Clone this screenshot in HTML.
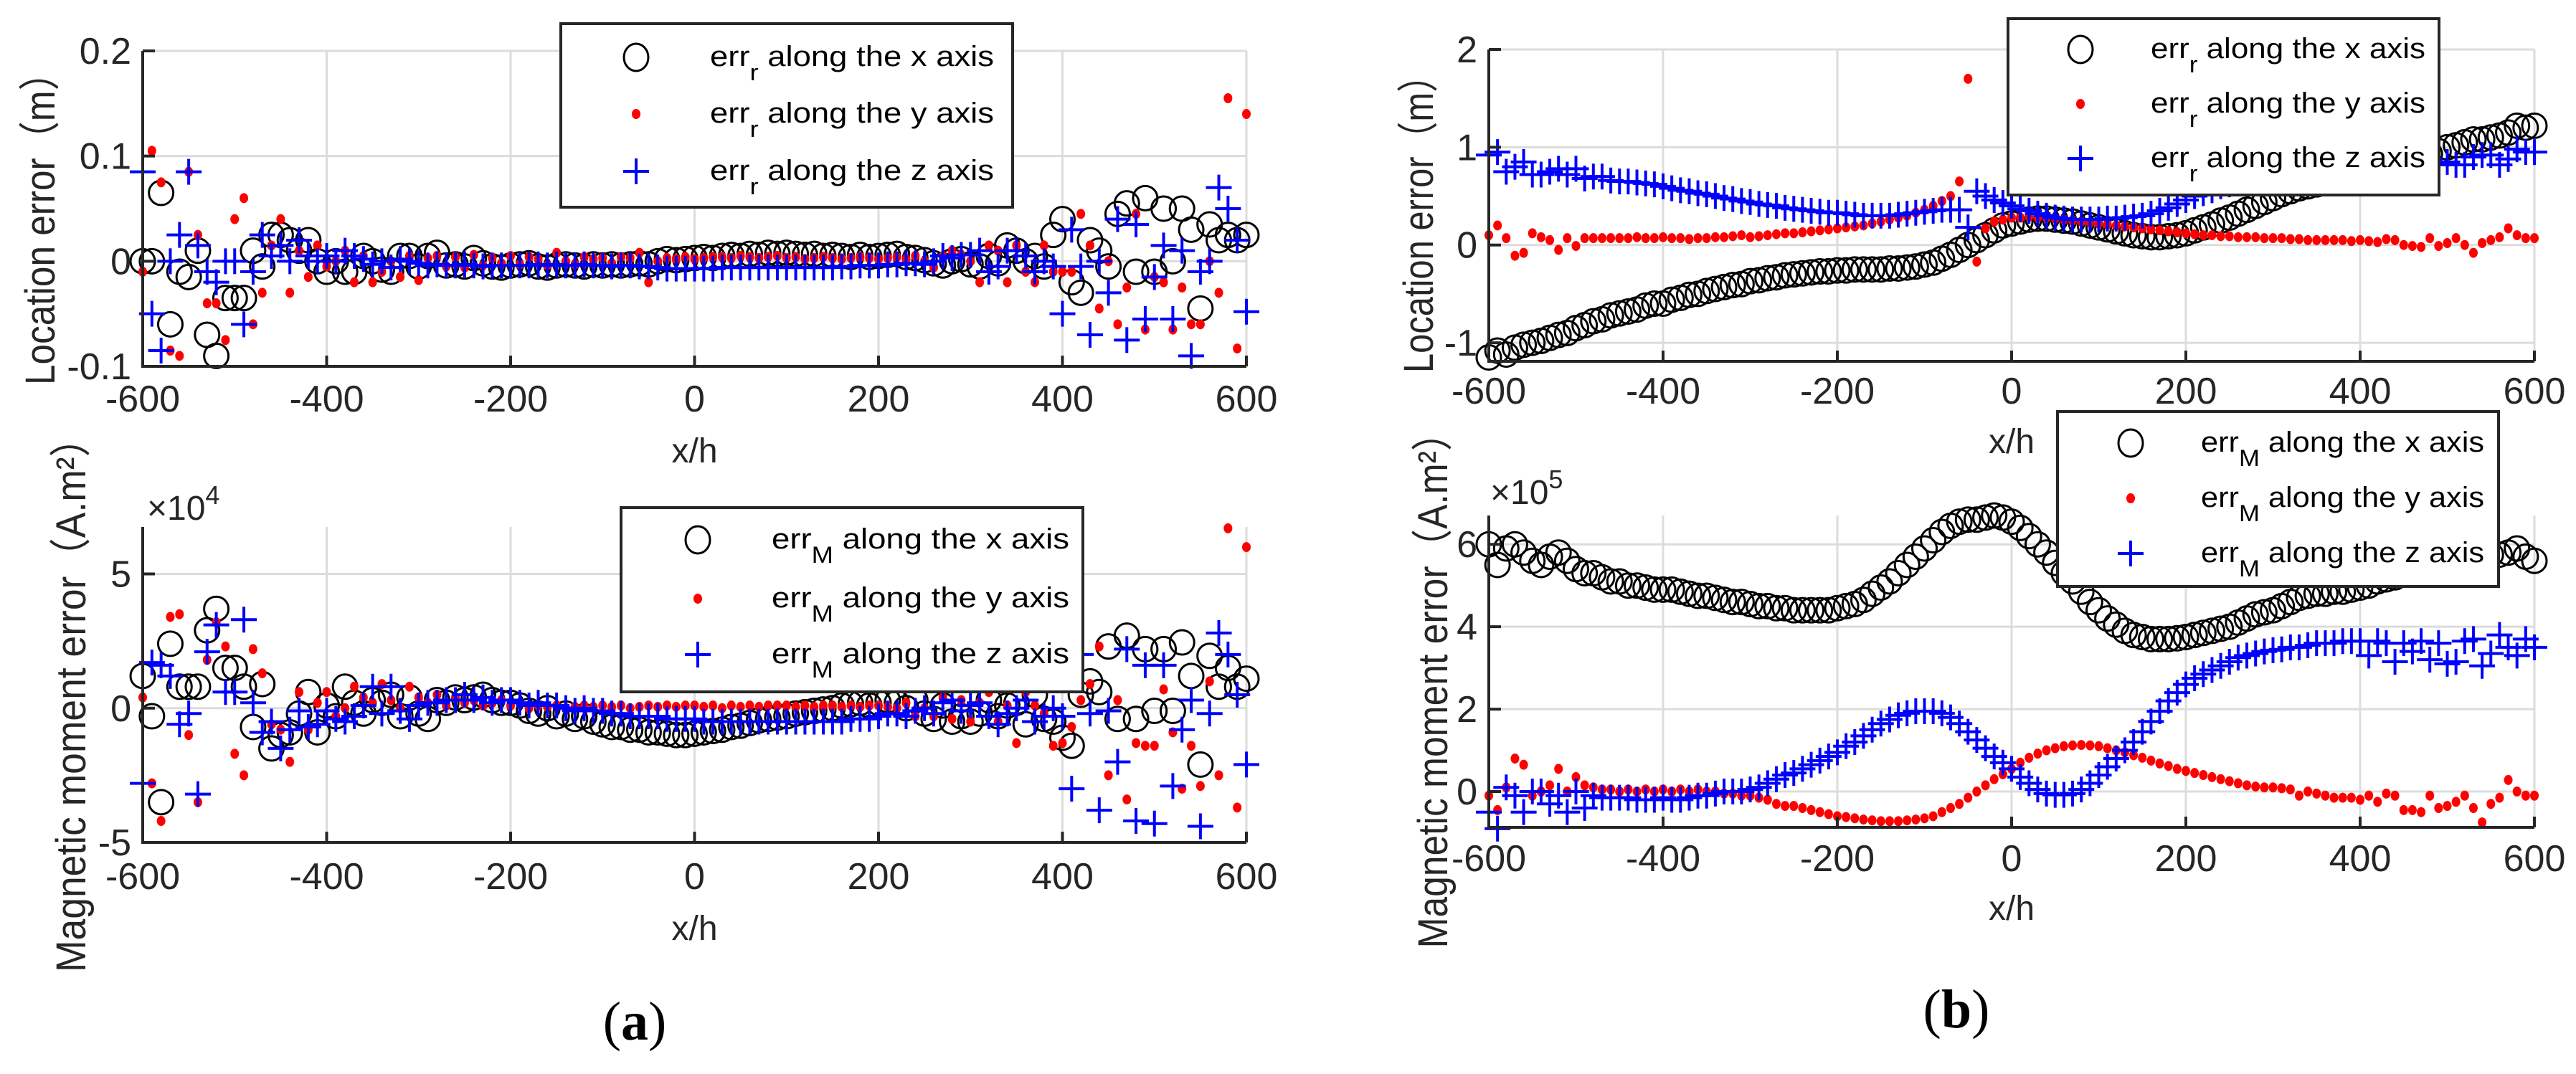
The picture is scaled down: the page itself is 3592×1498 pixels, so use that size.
<!DOCTYPE html>
<html><head><meta charset="utf-8">
<style>
html,body{margin:0;padding:0;background:#fff;}
svg{display:block;}
</style></head>
<body>
<svg id="fig" width="3592" height="1498" viewBox="0 0 3592 1498" xmlns="http://www.w3.org/2000/svg">
<rect x="0" y="0" width="3592" height="1498" fill="#fff"/>
</svg>
<script>
// x categories (x/h)
const xCats = [-600,-590,-580,-570,-560,-550,-540,-530,-520,-510,-500,-490,-480,-470,-460,-450,-440,-430,-420,-410,-400,-390,-380,-370,-360,-350,-340,-330,-320,-310,-300,-290,-280,-270,-260,-250,-240,-230,-220,-210,-200,-190,-180,-170,-160,-150,-140,-130,-120,-110,-100,-90,-80,-70,-60,-50,-40,-30,-20,-10,0,10,20,30,40,50,60,70,80,90,100,110,120,130,140,150,160,170,180,190,200,210,220,230,240,250,260,270,280,290,300,310,320,330,340,350,360,370,380,390,400,410,420,430,440,450,460,470,480,490,500,510,520,530,540,550,560,570,580,590,600];
const xTicks = [-600,-400,-200,0,200,400,600];

// Panel (a) top: location error (m)
const aLocX = [0.0,0.0,0.065,-0.06,-0.01,-0.015,0.01,-0.07,-0.09,-0.035,
-0.035,-0.035,0.01,-0.005,0.025,0.025,0.02,0.01,0.02,0.0,
-0.01,0.0,-0.01,-0.01,0.005,0.0,-0.008,-0.01,0.005,0.005,
-0.005,0.005,0.008,-0.004,-0.003,-0.005,0.003,-0.002,-0.005,-0.006,
-0.004,-0.003,-0.002,-0.005,-0.006,-0.004,-0.003,-0.004,-0.005,-0.003,
-0.004,-0.003,-0.004,-0.003,-0.002,-0.003,0.0,0.002,0.001,0.002,
0.003,0.004,0.003,0.005,0.006,0.005,0.007,0.006,0.008,0.007,
0.008,0.007,0.006,0.007,0.005,0.006,0.005,0.004,0.006,0.004,
0.005,0.006,0.007,0.004,0.003,0.001,-0.002,-0.004,0.0,0.002,
-0.003,-0.005,0.005,-0.002,0.015,0.01,0.0,0.005,-0.005,0.025,
0.04,-0.02,-0.03,0.02,0.01,-0.005,0.045,0.055,-0.01,0.06,
-0.01,0.05,0.0,0.05,0.03,-0.045,0.035,0.02,0.025,0.02,
0.025];
const aLocY = [-0.01,0.105,0.075,-0.085,-0.09,0.085,0.025,-0.04,-0.04,-0.075,
0.04,0.06,-0.06,-0.03,0.015,0.04,-0.03,0.01,-0.015,0.015,
-0.005,0.0,0.01,-0.02,0.005,-0.02,-0.01,0.0,-0.015,0.005,
-0.018,0.003,0.005,-0.005,0.004,-0.006,0.006,-0.004,0.003,-0.002,
0.005,-0.003,0.004,0.002,-0.004,0.008,0.0,-0.003,0.004,0.002,
0.003,-0.002,0.004,0.003,0.008,-0.02,0.0,0.003,0.002,0.004,
0.002,0.003,0.004,0.004,0.003,0.005,0.004,0.003,0.004,0.005,
0.003,0.004,0.002,0.003,0.004,0.003,0.002,0.003,0.004,0.003,
0.002,0.003,0.004,0.002,0.005,0.0,-0.006,0.005,0.01,0.006,
0.0,-0.02,0.015,0.01,-0.02,0.015,-0.01,-0.02,0.015,-0.01,
-0.01,-0.01,0.045,0.015,-0.045,0.0,-0.06,-0.025,0.045,-0.065,
-0.015,-0.02,-0.065,-0.025,-0.06,-0.06,0.0,-0.03,0.155,-0.083,
0.14];
const aLocZ = [0.085,-0.05,-0.085,0.0,0.025,0.085,0.015,-0.01,-0.02,0.0,
0.0,-0.06,-0.01,0.025,0.005,0.015,0.0,0.02,0.005,0.0,
0.005,0.0,0.01,0.005,0.002,-0.003,0.0,-0.006,0.002,0.0,
-0.002,-0.004,-0.003,-0.004,-0.004,-0.003,-0.004,-0.005,-0.004,-0.004,
-0.004,-0.004,-0.004,-0.003,-0.004,-0.003,-0.004,-0.004,-0.003,-0.004,
-0.004,-0.005,-0.004,-0.004,-0.005,-0.005,-0.006,-0.007,-0.007,-0.007,
-0.007,-0.007,-0.007,-0.006,-0.006,-0.006,-0.006,-0.006,-0.006,-0.006,
-0.006,-0.006,-0.006,-0.006,-0.006,-0.006,-0.005,-0.005,-0.004,-0.004,
-0.004,-0.003,-0.003,-0.002,-0.002,-0.003,0.0,0.005,0.003,0.006,
0.006,0.01,-0.01,-0.005,0.01,0.01,0.005,-0.01,0.0,-0.005,
-0.05,0.03,-0.005,-0.07,0.0,-0.03,0.04,-0.075,0.035,-0.055,
-0.015,0.015,-0.055,0.01,-0.09,-0.01,0.0,0.07,0.05,0.02,
-0.048];
const aLocTicks = [-0.1,0,0.1,0.2];
const aLocTickLabels = ["-0.1","0","0.1","0.2"];

// Panel (a) bottom: magnetic moment error (x1e4)
const aMomX = [1.2,-0.3,-3.5,2.4,0.8,0.8,0.8,2.9,3.7,1.5,
1.5,0.8,-0.7,0.9,-1.5,-1.0,-0.9,-0.2,0.6,-0.9,
0.1,-0.3,0.8,0.2,-0.2,0.3,0.2,0.5,-0.3,0.4,
-0.2,-0.4,0.3,0.2,0.4,0.3,0.4,0.5,0.3,0.2,
0.2,0.1,-0.1,-0.2,0.0,-0.3,-0.2,-0.4,-0.3,-0.5,
-0.6,-0.7,-0.7,-0.8,-0.8,-0.9,-0.9,-0.95,-1.0,-1.0,
-0.95,-0.9,-0.85,-0.8,-0.7,-0.65,-0.55,-0.45,-0.4,-0.35,
-0.3,-0.2,-0.15,-0.1,-0.05,0.0,0.1,0.15,0.2,0.1,
0.2,0.3,0.2,0.0,0.3,-0.2,-0.4,0.1,-0.5,-0.3,
-0.5,-0.2,0.3,-0.3,0.1,0.2,-0.6,0.5,-0.4,-0.5,
-1.1,-1.4,0.5,1.0,0.6,2.3,-0.4,2.7,-0.4,2.2,
-0.1,2.2,-0.1,2.45,1.2,-2.1,1.95,0.8,1.5,0.8,
1.1];
const aMomY = [0.4,-2.8,-4.2,3.4,3.5,-1.0,-3.5,1.8,3.2,2.3,
-1.7,-2.5,2.2,1.3,-0.6,-0.8,-2.0,0.6,-0.8,0.2,
0.6,-0.3,0.0,0.8,0.4,0.2,0.9,0.3,0.0,0.8,
0.4,0.2,0.5,0.1,0.4,0.2,0.3,0.1,0.2,0.3,
0.1,0.2,0.0,0.1,0.05,0.1,0.0,0.05,0.1,0.05,
0.1,0.05,0.1,0.0,0.05,0.1,0.05,0.1,0.05,0.1,
0.1,0.05,0.1,0.0,0.1,0.05,0.1,0.05,0.1,0.1,
0.1,0.05,0.1,0.05,0.1,0.1,0.05,0.1,0.05,0.1,
0.1,0.05,0.0,0.2,-0.3,0.0,-0.3,0.4,-0.4,0.3,
-0.5,0.2,0.6,-0.5,0.1,-1.3,0.6,0.1,-0.2,-1.4,
-1.3,-0.7,0.3,0.9,2.3,-2.5,0.3,-3.4,-1.3,-1.4,
-1.4,0.7,-0.9,-3.0,-1.4,-2.9,1.0,-2.5,6.7,-3.7,
6.0];
const aMomZ = [-2.8,1.7,1.6,1.2,-0.6,-0.2,-3.2,2.1,3.1,0.6,
0.6,3.3,0.2,-0.9,-0.5,-1.5,-0.8,-0.1,-0.7,-0.6,
-0.1,-0.4,-0.5,-0.3,0.1,0.8,-0.2,0.8,-0.1,-0.4,
0.1,0.2,0.2,0.3,0.3,0.5,0.3,0.4,0.2,0.3,
0.3,0.2,0.1,0.2,0.1,0.1,0.0,-0.1,0.0,-0.1,
-0.1,-0.2,-0.2,-0.3,-0.3,-0.3,-0.3,-0.4,-0.4,-0.4,
-0.4,-0.5,-0.5,-0.5,-0.5,-0.5,-0.5,-0.5,-0.5,-0.5,
-0.5,-0.5,-0.5,-0.5,-0.5,-0.5,-0.5,-0.4,-0.4,-0.4,
-0.3,-0.2,-0.2,-0.3,-0.1,0.0,-0.2,0.2,0.3,-0.1,
0.1,0.2,-0.3,-0.6,-0.2,0.0,0.3,-0.5,-0.3,0.0,
-0.3,-3.0,2.0,-0.2,-3.8,-0.1,-2.0,2.2,-4.2,1.6,
-4.3,1.6,-2.9,-0.8,0.3,-4.4,-0.2,2.8,2.0,0.5,
-2.1];
const aMomTicks = [-5,0,5];
const aMomTickLabels = ["-5","0","5"];

// Panel (b) top: location error (m)
const bLocX = [-1.15,-1.08,-1.12,-1.05,-1.02,-1.0,-0.98,-0.95,-0.92,-0.9,
-0.85,-0.82,-0.78,-0.76,-0.72,-0.7,-0.68,-0.66,-0.62,-0.6,
-0.6,-0.56,-0.54,-0.51,-0.5,-0.47,-0.45,-0.43,-0.41,-0.4,
-0.37,-0.36,-0.34,-0.33,-0.31,-0.3,-0.29,-0.28,-0.27,-0.27,
-0.26,-0.26,-0.25,-0.25,-0.25,-0.25,-0.24,-0.24,-0.23,-0.22,
-0.2,-0.18,-0.14,-0.1,-0.05,0.0,0.05,0.1,0.15,0.2,
0.22,0.24,0.26,0.27,0.27,0.26,0.25,0.24,0.22,0.2,
0.18,0.16,0.14,0.12,0.1,0.09,0.08,0.08,0.09,0.1,
0.12,0.15,0.18,0.21,0.25,0.28,0.32,0.36,0.4,0.44,
0.48,0.52,0.55,0.58,0.6,0.62,0.64,0.66,0.68,0.7,
0.72,0.75,0.78,0.8,0.82,0.85,0.88,0.9,0.93,0.96,
1.0,1.02,1.05,1.08,1.08,1.1,1.12,1.15,1.22,1.2,
1.22];
const bLocY = [0.1,0.2,0.07,-0.11,-0.08,0.12,0.08,0.05,-0.05,0.07,
-0.01,0.07,0.07,0.07,0.07,0.07,0.07,0.08,0.07,0.07,
0.08,0.07,0.07,0.06,0.07,0.07,0.08,0.08,0.09,0.1,
0.08,0.09,0.1,0.11,0.12,0.12,0.13,0.14,0.15,0.16,
0.17,0.18,0.19,0.2,0.22,0.24,0.26,0.28,0.3,0.33,
0.36,0.4,0.45,0.5,0.65,1.7,-0.17,0.17,0.24,0.26,
0.28,0.28,0.29,0.28,0.28,0.27,0.26,0.25,0.24,0.23,
0.22,0.21,0.2,0.19,0.18,0.17,0.16,0.15,0.14,0.13,
0.12,0.11,0.1,0.1,0.09,0.09,0.08,0.08,0.08,0.07,
0.07,0.07,0.06,0.06,0.05,0.05,0.05,0.05,0.05,0.04,
0.05,0.04,0.03,0.06,0.05,0.0,-0.01,-0.02,0.07,-0.01,
0.02,0.07,0.0,-0.08,0.02,0.05,0.08,0.17,0.1,0.07,
0.07];
const bLocZ = [0.92,0.95,0.75,0.8,0.85,0.72,0.72,0.75,0.78,0.72,
0.78,0.68,0.7,0.7,0.66,0.65,0.65,0.64,0.63,0.62,
0.6,0.58,0.56,0.55,0.53,0.52,0.5,0.48,0.47,0.45,
0.44,0.42,0.41,0.4,0.38,0.37,0.36,0.35,0.34,0.33,
0.33,0.32,0.31,0.3,0.3,0.3,0.3,0.31,0.32,0.33,
0.34,0.35,0.36,0.36,0.36,0.18,0.55,0.5,0.46,0.43,
0.4,0.37,0.35,0.32,0.3,0.28,0.27,0.26,0.26,0.26,
0.26,0.27,0.27,0.28,0.29,0.3,0.32,0.35,0.38,0.42,
0.46,0.5,0.53,0.56,0.6,0.62,0.65,0.68,0.7,0.72,
0.74,0.76,0.78,0.8,0.82,0.83,0.84,0.85,0.86,0.87,
0.88,0.88,0.9,0.9,0.9,0.92,0.9,0.85,0.88,0.82,
0.85,0.82,0.82,0.9,0.92,0.92,0.82,0.88,0.98,0.95,
0.95];
const bLocTicks = [-1,0,1,2];
const bLocTickLabels = ["-1","0","1","2"];

// Panel (b) bottom: magnetic moment error (x1e5)
const bMomX = [6.0,5.5,5.9,6.0,5.8,5.6,5.5,5.7,5.8,5.6,
5.4,5.3,5.3,5.2,5.1,5.1,5.0,5.0,4.95,4.9,
4.9,4.9,4.85,4.8,4.75,4.75,4.7,4.65,4.6,4.6,
4.55,4.5,4.5,4.45,4.45,4.4,4.4,4.4,4.4,4.4,
4.45,4.5,4.55,4.65,4.8,4.95,5.1,5.3,5.5,5.7,
5.9,6.1,6.3,6.45,6.55,6.6,6.6,6.65,6.7,6.65,
6.55,6.4,6.2,6.0,5.8,5.55,5.3,5.1,4.85,4.6,
4.4,4.2,4.05,3.9,3.8,3.75,3.7,3.7,3.7,3.72,
3.75,3.8,3.85,3.9,3.95,4.0,4.1,4.2,4.3,4.35,
4.4,4.5,4.6,4.7,4.75,4.8,4.8,4.85,4.85,4.9,
4.95,5.0,5.1,5.15,5.2,5.3,5.35,5.4,5.45,5.5,
5.55,5.6,5.6,5.65,5.7,5.75,5.75,5.8,5.9,5.7,
5.6];
const bMomY = [-0.1,-0.45,0.1,0.8,0.65,-0.1,0.0,0.15,0.55,0.0,
0.35,0.15,0.1,0.05,0.05,0.0,0.05,0.0,0.05,0.0,
0.05,0.0,0.05,0.0,0.05,0.0,0.0,-0.05,-0.05,-0.1,
-0.1,-0.15,-0.2,-0.3,-0.35,-0.35,-0.4,-0.45,-0.5,-0.55,
-0.6,-0.62,-0.65,-0.68,-0.7,-0.72,-0.72,-0.72,-0.7,-0.68,
-0.65,-0.6,-0.5,-0.4,-0.3,-0.15,0.0,0.15,0.3,0.42,
0.55,0.7,0.82,0.92,1.0,1.05,1.1,1.12,1.13,1.12,
1.1,1.05,1.0,0.95,0.88,0.82,0.75,0.68,0.62,0.55,
0.5,0.45,0.4,0.35,0.3,0.25,0.2,0.15,0.12,0.1,
0.1,0.08,0.05,-0.1,0.0,-0.05,-0.1,-0.15,-0.15,-0.15,
-0.2,-0.1,-0.25,-0.05,-0.1,-0.45,-0.45,-0.5,-0.1,-0.4,
-0.35,-0.25,-0.1,-0.4,-0.75,-0.3,-0.15,0.28,0.0,-0.1,
-0.1];
const bMomZ = [-0.5,-0.9,0.1,-0.1,-0.5,0.0,0.0,-0.3,-0.1,-0.5,
0.0,-0.4,-0.1,-0.15,-0.15,-0.15,-0.15,-0.2,-0.2,-0.2,
-0.15,-0.2,-0.2,-0.15,-0.1,-0.1,-0.05,0.0,0.0,0.0,
0.05,0.1,0.2,0.3,0.4,0.45,0.55,0.65,0.75,0.85,
0.95,1.1,1.2,1.35,1.5,1.65,1.75,1.85,1.9,1.95,
1.95,1.95,1.9,1.8,1.65,1.45,1.25,1.05,0.85,0.7,
0.55,0.35,0.2,0.05,-0.05,-0.08,-0.08,-0.05,0.05,0.2,
0.4,0.6,0.8,1.0,1.2,1.45,1.7,1.95,2.2,2.4,
2.6,2.75,2.85,2.95,3.05,3.15,3.25,3.3,3.35,3.4,
3.43,3.45,3.5,3.5,3.55,3.6,3.6,3.6,3.65,3.65,
3.65,3.3,3.65,3.6,3.15,3.6,3.4,3.65,3.2,3.6,
3.1,3.15,3.65,3.7,3.05,3.35,3.8,3.5,3.3,3.7,
3.5];
const bMomTicks = [0,2,4,6];
const bMomTickLabels = ["0","2","4","6"];

const NS = "http://www.w3.org/2000/svg";
const svg = document.getElementById('fig');
function mk(tag, attrs, parent){
  const e = document.createElementNS(NS, tag);
  for (const k in attrs) e.setAttribute(k, attrs[k]);
  (parent||svg).appendChild(e);
  return e;
}

const panels = [
 {id:'a-location', x0:199, x1:1738, yT:71, yB:511, ymin:-0.1, ymax:0.2, ticks:aLocTicks, labels:aLocTickLabels,
  sx:aLocX, sy:aLocY, sz:aLocZ, tickLabelX:183, tickBase:574, xlabBase:645,
  ylab:'Location error（m）', ylabX:55, ylabC:306, ylabLen:462, exp:null,
  leg:{x:782,y:33,w:630,h:256,mx:887,tx:990,tw:396,rows:[92,171,251],sub:'r'}},
 {id:'a-moment', x0:199, x1:1738, yT:735, yB:1175, ymin:-5, ymax:6.75, ticks:aMomTicks, labels:aMomTickLabels,
  sx:aMomX, sy:aMomY, sz:aMomZ, tickLabelX:183, tickBase:1240, xlabBase:1311,
  ylab:'Magnetic moment error（A.m²）', ylabX:98, ylabC:970, ylabLen:772, exp:{x:205,y:725,p:'4'},
  leg:{x:866,y:708,w:644,h:257,mx:973,tx:1076,tw:415,rows:[765,847,925],sub:'M'}},
 {id:'b-location', x0:2076, x1:3534, yT:69, yB:504, ymin:-1.19, ymax:2, ticks:bLocTicks, labels:bLocTickLabels,
  sx:bLocX, sy:bLocY, sz:bLocZ, tickLabelX:2060, tickBase:563, xlabBase:632,
  ylab:'Location error（m）', ylabX:1977, ylabC:300, ylabLen:440, exp:null,
  leg:{x:2800,y:26,w:601,h:246,mx:2901,tx:2999,tw:383,rows:[81,157,233],sub:'r'}},
 {id:'b-moment', x0:2076, x1:3534, yT:719, yB:1154, ymin:-0.87, ymax:6.7, ticks:bMomTicks, labels:bMomTickLabels,
  sx:bMomX, sy:bMomY, sz:bMomZ, tickLabelX:2060, tickBase:1215, xlabBase:1283,
  ylab:'Magnetic moment error（A.m²）', ylabX:1997, ylabC:950, ylabLen:745, exp:{x:2078,y:703,p:'5'},
  leg:{x:2869,y:574,w:615,h:244,mx:2971,tx:3069,tw:395,rows:[630,707,784],sub:'M'}}
];

const TXT = '#262626';
const FONT = '"Liberation Sans", "Noto Sans CJK SC", sans-serif';

function circle(g, cx, cy, r){ return mk('circle',{cx:cx,cy:cy,r:r,fill:'none',stroke:'#000','stroke-width':3},g); }
function dot(g, cx, cy){ return mk('ellipse',{cx:cx,cy:cy,rx:6,ry:7,fill:'#ff0000'},g); }
function plus(g, cx, cy){ return mk('path',{d:`M${cx-18} ${cy}H${cx+18}M${cx} ${cy-18}V${cy+18}`,stroke:'#0000ff','stroke-width':4,fill:'none'},g); }

panels.forEach(p => {
  const sxF = v => p.x0 + (v + 600) / 1200 * (p.x1 - p.x0);
  const syF = v => p.yB - (v - p.ymin) / (p.ymax - p.ymin) * (p.yB - p.yT);
  const g = mk('g', {});
  
  

  const grid = mk('g', {}, g);
  
  
  xTicks.forEach(t => {
    if (t === -600) return;
    mk('line',{x1:sxF(t),x2:sxF(t),y1:p.yT,y2:p.yB,stroke:'#dcdcdc','stroke-width':3},grid);
  });
  p.ticks.forEach(t => {
    const y = syF(t);
    if (Math.abs(y - p.yB) < 2) return;
    mk('line',{x1:p.x0,x2:p.x1,y1:y,y2:y,stroke:'#dcdcdc','stroke-width':3},grid);
  });

  const sg = mk('g', {}, g);
  
  
  p.sx.forEach((v,i) => circle(sg, sxF(xCats[i]), syF(v), 17));
  const rg = mk('g', {}, g);
  
  
  p.sy.forEach((v,i) => dot(rg, sxF(xCats[i]), syF(v)));
  const bg = mk('g', {}, g);
  
  
  p.sz.forEach((v,i) => plus(bg, sxF(xCats[i]), syF(v)));

  const ax = mk('path',{d:`M${p.x0} ${p.yT}V${p.yB}H${p.x1}`,stroke:'#262626','stroke-width':4,fill:'none'},g);
  
  
  xTicks.forEach(t => {
    mk('line',{x1:sxF(t),x2:sxF(t),y1:p.yB,y2:p.yB-15,stroke:'#262626','stroke-width':4},g);
    const tl = mk('text',{x:sxF(t),y:p.tickBase,'text-anchor':'middle','font-family':FONT,'font-size':52,fill:TXT},g);
    tl.textContent = String(t);
    
    
  });
  p.ticks.forEach((t,i) => {
    const y = syF(t);
    mk('line',{x1:p.x0,x2:p.x0+17,y1:y,y2:y,stroke:'#262626','stroke-width':4},g);
    const tl = mk('text',{x:p.tickLabelX,y:y+18,'text-anchor':'end','font-family':FONT,'font-size':52,fill:TXT},g);
    tl.textContent = p.labels[i];
    
    
  });

  const xl = mk('text',{x:(p.x0+p.x1)/2,y:p.xlabBase,'text-anchor':'middle','font-family':FONT,'font-size':48,fill:TXT},g);
  xl.textContent = 'x/h';
  
  

  const yl = mk('text',{x:0,y:0,'text-anchor':'middle','font-family':FONT,'font-size':58,fill:TXT,
    transform:`translate(${p.ylabX+21},${p.ylabC}) rotate(-90)`,textLength:p.ylabLen,lengthAdjust:'spacingAndGlyphs'},g);
  yl.textContent = p.ylab;
  
  

  if (p.exp) {
    const ex = mk('text',{x:p.exp.x,y:p.exp.y,'font-family':FONT,'font-size':48,fill:TXT},g);
    
    
    const t1 = mk('tspan',{},ex); t1.textContent = '×10';
    const t2 = mk('tspan',{dy:-22,'font-size':36},ex); t2.textContent = p.exp.p;
  }

  const L = p.leg;
  const lg = mk('g', {}, g);
  
  
  mk('rect',{x:L.x,y:L.y,width:L.w,height:L.h,fill:'#fff',stroke:'#262626','stroke-width':4},lg);
  const axesNames = ['x','y','z'];
  L.rows.forEach((by,i) => {
    const cy = by - 12;
    if (i===0) { mk('ellipse',{cx:L.mx,cy:cy,rx:17,ry:19,fill:'none',stroke:'#000','stroke-width':3},lg); }
    else if (i===1) dot(lg, L.mx, cy);
    else plus(lg, L.mx, cy);
    const t = mk('text',{x:L.tx,y:by,'font-family':FONT,'font-size':40,fill:'#000',textLength:L.tw,lengthAdjust:'spacingAndGlyphs'},lg);
    
    
    const a = mk('tspan',{},t); a.textContent = 'err';
    const b = mk('tspan',{dy:20,'font-size':32},t); b.textContent = L.sub;
    const c = mk('tspan',{dy:-20},t); c.textContent = ' along the ' + axesNames[i] + ' axis';
  });
});

const ca = mk('text',{x:885,y:1450,'text-anchor':'middle','font-family':'"Liberation Serif", serif','font-size':76,fill:'#000'});


ca.innerHTML = '(<tspan font-weight="bold">a</tspan>)';
const cb = mk('text',{x:2728,y:1433,'text-anchor':'middle','font-family':'"Liberation Serif", serif','font-size':76,fill:'#000'});


cb.innerHTML = '(<tspan font-weight="bold">b</tspan>)';
</script>
</body></html>
